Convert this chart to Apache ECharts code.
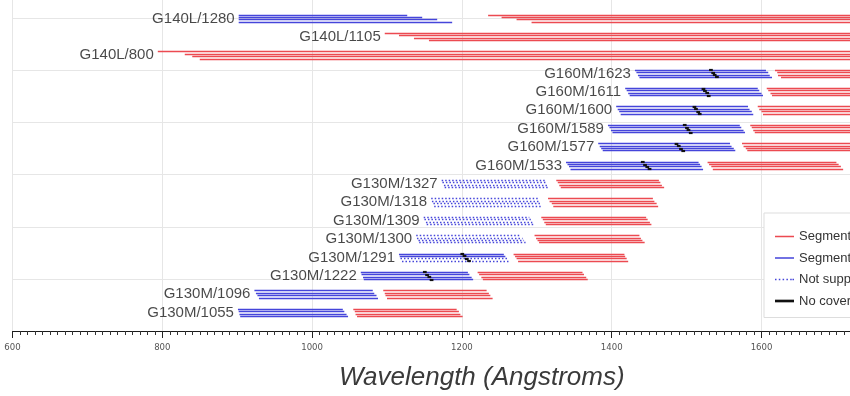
<!DOCTYPE html>
<html>
<head>
  <meta charset="utf-8" />
  <title>COS grating wavelength coverage</title>
  <script src="https://cdn.jsdelivr.net/npm/echarts@6/dist/echarts.min.js"></script>
</head>
<body style="margin:0;">
  <div id="coverage" style="width:850px;height:396px;"></div>
  <script type="text/javascript">

    // rows, top to bottom
    let rowNames = ['G140L/1280', 'G140L/1105', 'G140L/800',
      'G160M/1623', 'G160M/1611', 'G160M/1600', 'G160M/1589', 'G160M/1577', 'G160M/1533',
      'G130M/1327', 'G130M/1318', 'G130M/1309', 'G130M/1300', 'G130M/1291', 'G130M/1222',
      'G130M/1096', 'G130M/1055'];

    // [start, end] in Angstroms for FP-POS 1..4 (top line first), null = not drawn
    let segmentA = [
      [[1235, 1900], [1253, 1920], [1273, 1940], [1293, 1960]],
      [[1097, 1900], [1116, 1920], [1136, 1940], [1156, 1960]],
      [[794, 1900], [830, 1920], [840, 1940], [850, 1960]],
      [[1618, 1800], [1621, 1803], [1622, 1806], [1626, 1809]],
      [[1607, 1790], [1609, 1792], [1612, 1795], [1614, 1797]],
      [[1595, 1775], [1597, 1777], [1600, 1780], [1602, 1782]],
      [[1585, 1765], [1587, 1767], [1589, 1770], [1591, 1772]],
      [[1574, 1750], [1576, 1752], [1579, 1755], [1581, 1757]],
      [[1528, 1700], [1530, 1703], [1533, 1706], [1535, 1709]],
      [[1326, 1463], [1328, 1465], [1330, 1467], [1332, 1470]],
      [[1315, 1455], [1317, 1457], [1320, 1460], [1322, 1462]],
      [[1306, 1446], [1308, 1448], [1310, 1451], [1312, 1453]],
      [[1297, 1437], [1299, 1439], [1301, 1441], [1303, 1444]],
      [[1269, 1417], [1271, 1418], [1273, 1420], [1275, 1422]],
      [[1221, 1361], [1223, 1363], [1226, 1366], [1228, 1368]],
      [[1095, 1233], [1097, 1236], [1098, 1238], [1100, 1241]],
      [[1055, 1193], [1057, 1196], [1058, 1198], [1060, 1201]]
    ];
    let segmentB = [
      [[902, 1127], [902, 1147], [902, 1167], [902, 1187]],
      null,
      null,
      [[1431, 1606], [1433, 1609], [1435, 1611], [1437, 1614]],
      [[1418, 1595], [1420, 1597], [1422, 1600], [1424, 1602]],
      [[1406, 1582], [1408, 1584], [1410, 1587], [1412, 1589]],
      [[1395, 1571], [1397, 1573], [1399, 1576], [1401, 1578]],
      [[1382, 1558], [1384, 1560], [1386, 1563], [1388, 1565]],
      [[1339, 1516], [1341, 1518], [1343, 1520], [1345, 1522]],
      null, null, null, null,
      [[1116, 1256], [1117, 1258], null, null],
      [[1065, 1208], [1066, 1210], [1068, 1213], [1069, 1215]],
      [[923, 1081], [925, 1083], [927, 1086], [929, 1088]],
      [[901, 1041], [902, 1043], [903, 1046], [904, 1048]]
    ];
    let notSupported = [
      null, null, null, null, null, null, null, null, null,
      [[1173, 1313], [1174, 1314], [1176, 1316], [1177, 1317]],
      [[1159, 1302], [1160, 1303], [1162, 1305], [1163, 1307]],
      [[1149, 1290], [1150, 1292], [1152, 1294], [1153, 1296]],
      [[1139, 1279], [1140, 1281], [1142, 1283], [1143, 1285]],
      [null, null, [1118, 1261], [1120, 1264]],
      null, null, null
    ];
    let noCoverage = [
      null, null, null,
      [[1530, 1535], [1533, 1538], [1535, 1540], [1538, 1543]],
      [[1520, 1525], [1522, 1527], [1525, 1530], [1527, 1532]],
      [[1508, 1513], [1510, 1515], [1513, 1518], [1515, 1520]],
      [[1495, 1500], [1498, 1503], [1500, 1505], [1503, 1508]],
      [[1484, 1489], [1487, 1492], [1490, 1495], [1493, 1498]],
      [[1439, 1444], [1442, 1447], [1445, 1450], [1448, 1453]],
      null, null, null, null,
      [[1198, 1203], [1201, 1206], [1204, 1209], [1207, 1212]],
      [[1148, 1153], [1151, 1156], [1154, 1159], [1157, 1162]],
      null, null
    ];
    let xTickLabels = [600, 800, 1000, 1200, 1400, 1600];
    let legendNames = ['Segment A', 'Segment B', 'Not supported', 'No coverage'];

    // vertical offset of the four FP-POS lines inside a row (row units)
    let fpOffset = [0.195, 0.065, -0.065, -0.195];

    function rowY(i) { return rowNames.length - i; }

    function toLines(segs) {
      let out = [];
      segs.forEach(function (row, i) {
        if (!row) return;
        row.forEach(function (s, k) {
          if (!s) return;
          let y = rowY(i) + fpOffset[k];
          out.push({ coords: [[s[0], y], [s[1], y]] });
        });
      });
      return out;
    }

    // label anchor = leftmost start of the row
    let labelPoints = rowNames.map(function (name, i) {
      let starts = [];
      [segmentA, segmentB, notSupported].forEach(function (segs) {
        if (segs[i]) segs[i].forEach(function (s) { if (s) starts.push(s[0]); });
      });
      return [Math.min.apply(null, starts), rowY(i), name];
    });

    let red = '#ec4a51';
    let blue = '#4545da';
    let black = '#111111';

    // legend icons: plain bars, dashed bar for "not supported"
    let solidIcon = 'path://M0,0 h20 v1.6 h-20 z';
    let dotIcon = 'path://M0,0 h1.6 v1.6 h-1.6 z M4,0 h1.6 v1.6 h-1.6 z M8,0 h1.6 v1.6 h-1.6 z M12,0 h1.6 v1.6 h-1.6 z M16,0 h1.6 v1.6 h-1.6 z M18.4,0 h1.6 v1.6 h-1.6 z';
    let thickIcon = 'path://M0,0 h20 v2.8 h-20 z';

    var chart = echarts.init(document.getElementById('coverage'));

    var option = {
      animation: false,
      backgroundColor: '#ffffff',
      title: {
        text: 'Wavelength (Angstroms)',
        left: 339,
        top: 365,
        padding: 0,
        textStyle: {
          fontFamily: 'Liberation Sans',
          fontStyle: 'italic',
          fontWeight: 'normal',
          fontSize: 26,
          color: '#3a3a3a'
        }
      },
      legend: {
        orient: 'vertical',
        left: 764,
        top: 213,
        padding: [17, 10, 10, 11],
        itemGap: 8.5,
        itemWidth: 19,
        itemHeight: 14,
        backgroundColor: '#ffffff',
        borderColor: '#dddddd',
        borderWidth: 1,
        selectedMode: false,
        itemStyle: { borderWidth: 0 },
        textStyle: { fontFamily: 'Liberation Sans', fontSize: 13, color: '#333333' },
        data: [
          { name: legendNames[0], icon: solidIcon, itemStyle: { color: red } },
          { name: legendNames[1], icon: solidIcon, itemStyle: { color: blue } },
          { name: legendNames[2], icon: dotIcon, itemStyle: { color: blue } },
          { name: legendNames[3], icon: thickIcon, itemStyle: { color: black } }
        ]
      },
      grid: {
        left: 12.5,
        right: -61.3,
        top: 0,
        bottom: 65,
        outerBoundsMode: 'none'
      },
      xAxis: {
        type: 'value',
        min: 600,
        max: 1800,
        interval: 200,
        axisLine: { show: true, onZero: false, lineStyle: { color: '#1a1a1a', width: 1 } },
        axisTick: { show: true, length: 7, lineStyle: { color: '#222222' } },
        minorTick: { show: true, splitNumber: 20, length: 4, lineStyle: { color: '#333333' } },
        axisLabel: {
          fontFamily: 'DejaVu Sans Condensed',
          fontSize: 9.5,
          color: '#555555',
          margin: 12,
          showMaxLabel: false,
          formatter: function (v) { return xTickLabels.indexOf(v) >= 0 ? String(v) : ''; }
        },
        splitLine: { show: true, lineStyle: { color: '#e6e6e6', width: 1 } }
      },
      yAxis: {
        type: 'value',
        min: 0,
        max: 18,
        interval: 17 / 6,
        axisLine: { show: false },
        axisTick: { show: false },
        axisLabel: { show: false },
        splitLine: { show: true, showMaxLine: false, lineStyle: { color: '#e6e6e6', width: 1 } }
      },
      series: [
        {
          name: legendNames[0], type: 'lines', coordinateSystem: 'cartesian2d', silent: true, z: 3,
          itemStyle: { color: red },
          lineStyle: { color: red, width: 1.4, opacity: 1 },
          data: toLines(segmentA)
        },
        {
          name: legendNames[1], type: 'lines', coordinateSystem: 'cartesian2d', silent: true, z: 3,
          itemStyle: { color: blue },
          lineStyle: { color: blue, width: 1.4, opacity: 1 },
          data: toLines(segmentB)
        },
        {
          name: legendNames[2], type: 'lines', coordinateSystem: 'cartesian2d', silent: true, z: 3,
          itemStyle: { color: blue },
          lineStyle: { color: blue, width: 1.3, opacity: 1, type: [1.5, 2] },
          data: toLines(notSupported)
        },
        {
          name: legendNames[3], type: 'lines', coordinateSystem: 'cartesian2d', silent: true, z: 4,
          itemStyle: { color: black },
          lineStyle: { color: black, width: 2.2, opacity: 1 },
          data: toLines(noCoverage)
        },
        // row labels
        {
          name: 'labels', type: 'scatter', silent: true, symbolSize: 0, z: 5,
          data: labelPoints,
          label: {
            show: true,
            position: 'left',
            distance: 4,
            fontFamily: 'Liberation Sans',
            fontSize: 15,
            color: '#1a1a1a',
            formatter: function (p) { return p.value[2]; }
          }
        }
      ]
    };

    chart.setOption(option);
  </script>
</body>
</html>
